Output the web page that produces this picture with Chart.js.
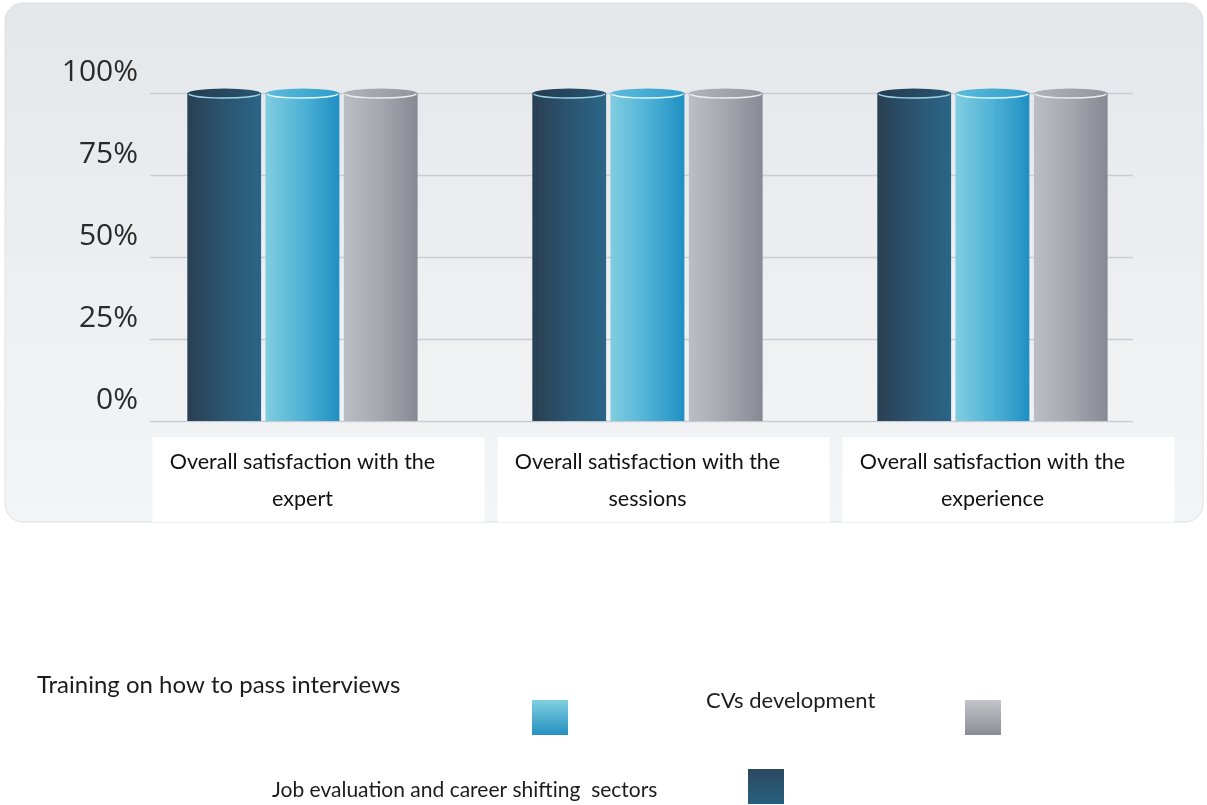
<!DOCTYPE html>
<html>
<head>
<meta charset="utf-8">
<title>Overall satisfaction</title>
<script src="https://cdn.jsdelivr.net/npm/chart.js@4/dist/chart.umd.min.js"></script>
<style>
  html, body { margin: 0; padding: 0; background: #ffffff; }
  #wrap { width: 1207px; height: 805px; }
</style>
</head>
<body>
<div id="wrap"><canvas id="satisfaction-chart" width="1207" height="805"></canvas></div>
<script>
// ─── Data ───────────────────────────────────────────────────

const categories = [
  ['Overall satisfaction with the', 'expert'],
  ['Overall satisfaction with the', 'sessions'],
  ['Overall satisfaction with the', 'experience'],
];

const jobEvaluation = [100, 100, 100];
const interviewTraining = [100, 100, 100];
const cvDevelopment = [100, 100, 100];

const yTicks = [0, 25, 50, 75, 100];
const yTickLabels = ['0%', '25%', '50%', '75%', '100%'];

// ─── Cylinder styles ────────────────────────────────────────

const CYLINDER = {
  job: { side: ['#2a3f52', '#2b5570', '#2a6587'], cap: ['#243c50', '#285570'], rim: '#9fd2e8', swatch: ['#2c4a60', '#27607f'] },
  training: { side: ['#80cde0', '#4fb2d6', '#1f90c3'], cap: ['#5cbcda', '#2f9ccc'], rim: '#e2f6fb', swatch: ['#80d0e0', '#2590c0'] },
  cv: { side: ['#bbbec5', '#a4a7ae', '#878a93'], cap: ['#b0b3b9', '#92959c'], rim: '#eeeef0', swatch: ['#c3c5ca', '#8a8d95'] },
};

// ─── Plugins ────────────────────────────────────────────────

// Rounded panel behind the plot, white label boxes, grid lines and y labels
const panelPlugin = {
  id: 'panel',
  beforeDraw(chart) {
    const { ctx, scales: { x } } = chart;
    ctx.save();
    const g = ctx.createLinearGradient(0, 3, 0, 522);
    g.addColorStop(0, '#e4e7ea');
    g.addColorStop(1, '#f4f5f7');
    ctx.fillStyle = g;
    ctx.strokeStyle = '#dde0e3';
    ctx.lineWidth = 1;
    ctx.beginPath();
    ctx.roundRect(5, 3, 1198, 519, 18);
    ctx.fill();
    ctx.stroke();

    ctx.fillStyle = '#ffffff';
    categories.forEach((_, i) => {
      const cx = x.getPixelForTick(i);
      ctx.fillRect(cx - 150, 437, 332, 85);
    });
    ctx.restore();
  },
  beforeDatasetsDraw(chart) {
    const { ctx, chartArea, scales: { y } } = chart;
    ctx.save();
    ctx.strokeStyle = '#c9cdd2';
    ctx.lineWidth = 1.5;
    yTicks.forEach(v => {
      const py = Math.round(y.getPixelForValue(v)) + 0.5;
      ctx.beginPath();
      ctx.moveTo(chartArea.left + 20, py);
      ctx.lineTo(chartArea.right - 32, py);
      ctx.stroke();
    });

    // percentage labels sit above their grid line
    ctx.font = '30px "Open Sans"';
    ctx.fillStyle = '#2a2a2a';
    ctx.textAlign = 'right';
    ctx.textBaseline = 'middle';
    yTicks.forEach((v, i) => {
      ctx.fillText(yTickLabels[i], chartArea.left + 8, y.getPixelForValue(v) - 21);
    });
    ctx.restore();
  },
};

// Repaints every bar as a shaded cylinder with an elliptical top
const cylinderPlugin = {
  id: 'cylinders',
  afterDatasetsDraw(chart) {
    const { ctx } = chart;
    chart.data.datasets.forEach((ds, di) => {
      const style = CYLINDER[ds.key];
      chart.getDatasetMeta(di).data.forEach(bar => {
        const { x, y, base, width } = bar.getProps(['x', 'y', 'base', 'width'], true);
        const l = x - width / 2;
        const r = x + width / 2;
        const ry = 5;
        ctx.save();
        const g = ctx.createLinearGradient(l, 0, r, 0);
        g.addColorStop(0, style.side[0]);
        g.addColorStop(0.5, style.side[1]);
        g.addColorStop(1, style.side[2]);
        ctx.fillStyle = g;
        ctx.fillRect(l, y, width, base - y);

        const cg = ctx.createLinearGradient(l, 0, r, 0);
        cg.addColorStop(0, style.cap[0]);
        cg.addColorStop(1, style.cap[1]);
        ctx.beginPath();
        ctx.ellipse(x, y + 0.5, width / 2, ry, 0, 0, Math.PI * 2);
        ctx.fillStyle = cg;
        ctx.fill();

        ctx.beginPath();
        ctx.ellipse(x, y + 0.5, width / 2 - 1, ry - 0.5, 0, 0.08, Math.PI - 0.08);
        ctx.strokeStyle = style.rim;
        ctx.lineWidth = 1.5;
        ctx.stroke();
        ctx.restore();
      });
    });
  },
};

// Free-form legend below the panel
const legendPlugin = {
  id: 'looseLegend',
  afterDraw(chart) {
    const { ctx } = chart;
    const spots = {
      training: { text: [37, 693], size: 24, box: [532, 700] },
      cv: { text: [706, 708], size: 22, box: [965, 700] },
      job: { text: [272, 797], size: 21, box: [748, 769] },
    };
    ctx.save();
    ctx.textBaseline = 'alphabetic';
    chart.data.datasets.forEach(ds => {
      const s = spots[ds.key];
      const sw = CYLINDER[ds.key].swatch;
      ctx.font = s.size + 'px Lato';
      ctx.fillStyle = '#1c1c1c';
      ctx.fillText(ds.label, s.text[0], s.text[1]);
      const g = ctx.createLinearGradient(0, s.box[1], 0, s.box[1] + 35);
      g.addColorStop(0, sw[0]);
      g.addColorStop(1, sw[1]);
      ctx.fillStyle = g;
      ctx.fillRect(s.box[0], s.box[1], 36, 35);
    });
    ctx.restore();
  },
};

// ─── Chart ──────────────────────────────────────────────────

new Chart(document.getElementById('satisfaction-chart'), {
  type: 'bar',
  data: {
    labels: categories,
    datasets: [
      { key: 'job', label: 'Job evaluation and career shifting  sectors', data: jobEvaluation, backgroundColor: '#2a5570' },
      { key: 'training', label: 'Training on how to pass interviews', data: interviewTraining, backgroundColor: '#4fb2d6' },
      { key: 'cv', label: 'CVs development', data: cvDevelopment, backgroundColor: '#a4a7ae' },
    ],
  },
  options: {
    responsive: false,
    animation: false,
    layout: { padding: { top: 93, right: 42, left: 0, bottom: 0 } },
    categoryPercentage: 0.68,
    barPercentage: 0.94,
    plugins: {
      legend: { display: false },
      tooltip: { enabled: false },
    },
    scales: {
      x: {
        grid: { display: false, drawTicks: false },
        border: { display: false },
        ticks: {
          padding: 22,
          color: '#111111',
          font: { family: 'Lato', size: 21.5, lineHeight: 1.75 },
        },
        afterFit: scale => { scale.height = 384; },
      },
      y: {
        min: 0,
        max: 100,
        grid: { display: false, drawTicks: false },
        border: { display: false },
        ticks: { stepSize: 25, display: false },
        afterFit: scale => { scale.width = 130; },
      },
    },
  },
  plugins: [panelPlugin, cylinderPlugin, legendPlugin],
});
</script>
</body>
</html>
